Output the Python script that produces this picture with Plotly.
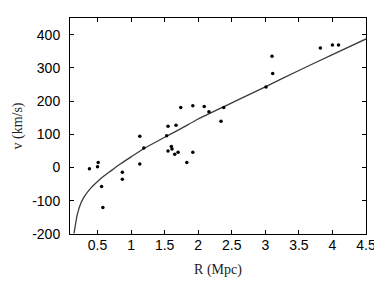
import plotly.graph_objects as go

# Observed galaxies: distance R (Mpc) and velocity v (km/s)
R_obs = [0.38, 0.50, 0.51, 0.56, 0.58, 0.87, 0.87, 1.13, 1.13, 1.19,
         1.55, 1.53, 1.55, 1.60, 1.61, 1.65, 1.70, 1.67, 1.74, 1.83,
         1.92, 1.92, 2.09, 2.16, 2.34, 2.38, 3.01, 3.10, 3.11, 3.82,
         4.00, 4.09]
v_obs = [-4, 2, 15, -57, -120, -14, -35, 94, 11, 59,
         124, 96, 50, 63, 56, 40, 46, 127, 181, 15,
         186, 46, 184, 168, 139, 181, 242, 335, 283, 360,
         369, 369]

# Model curve
R_model = [0.15, 0.2, 0.25, 0.3, 0.4, 0.5, 0.6, 0.7, 0.85, 1.0,
           1.2, 1.5, 1.75, 2.0, 2.4, 3.0, 3.5, 4.0, 4.5]
v_model = [-198, -140, -108, -88, -62, -42, -25, -10, 12, 32,
           58, 91, 118, 146, 185, 243, 292, 340, 387]

x_ticks = [0.5, 1, 1.5, 2, 2.5, 3, 3.5, 4, 4.5]
x_labels = ["0.5", "1", "1.5", "2", "2.5", "3", "3.5", "4", "4.5"]
y_ticks = [-200, -100, 0, 100, 200, 300, 400]
y_labels = ["-200", "-100", "0", "100", "200", "300", "400"]

fig = go.Figure()
fig.add_trace(go.Scatter(x=R_model, y=v_model, mode="lines",
                         line=dict(color="#3a3a3a", width=1.3, shape="spline", smoothing=0.6),
                         hoverinfo="skip", showlegend=False))
fig.add_trace(go.Scatter(x=R_obs, y=v_obs, mode="markers",
                         marker=dict(color="black", size=3.5, symbol="circle"),
                         showlegend=False))

axis_common = dict(showgrid=False, zeroline=False, showline=True, linecolor="black",
                   linewidth=1, mirror="allticks", ticks="inside", ticklen=4,
                   tickcolor="black", tickwidth=1,
                   tickfont=dict(family="Liberation Sans, Arial", size=14, color="black"))

fig.update_xaxes(range=[0.09, 4.5], tickvals=x_ticks, ticktext=x_labels,
                 ticklabelstandoff=-2,
                 title=dict(text="R (Mpc)", standoff=12,
                            font=dict(family="Liberation Serif, Times New Roman", size=14, color="#222")),
                 **axis_common)
fig.update_yaxes(range=[-200, 450], tickvals=y_ticks, ticktext=y_labels,
                 ticklabelstandoff=6,
                 title=dict(text="v (km/s)", standoff=6,
                            font=dict(family="Liberation Serif, Times New Roman", size=14, color="#222")),
                 **axis_common)

# the page adds an 8px body margin, so the margins are shifted to compensate
fig.update_layout(width=382, height=286, margin=dict(l=62, r=24, t=10, b=60, autoexpand=False),
                  paper_bgcolor="white", plot_bgcolor="white")

fig.write_html("out.html")
